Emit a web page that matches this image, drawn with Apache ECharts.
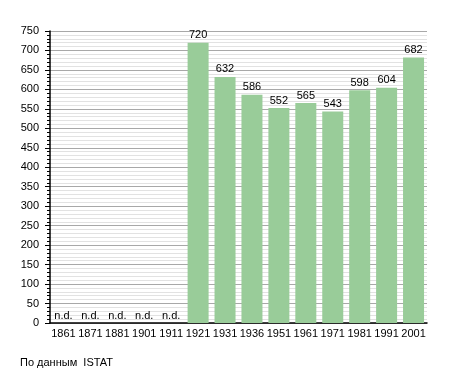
<!DOCTYPE html>
<html><head><meta charset="utf-8">
<script src="https://cdn.jsdelivr.net/npm/echarts@6/dist/echarts.min.js"></script>
<style>html,body{margin:0;padding:0;background:#fff}#c{width:455px;height:373px}</style>
</head><body><div id="c"></div>
<script>
const categories = ['1861','1871','1881','1901','1911','1921','1931','1936','1951','1961','1971','1981','1991','2001'];
const values = [null,null,null,null,null,720,632,586,552,565,543,598,604,682];
const yTicks = {min:0, max:750, interval:50};
const noteText = 'По данным  ISTAT';

const chart = echarts.init(document.getElementById('c'), null, {renderer:'canvas'});
const font = 'Liberation Sans, Arial, sans-serif';
chart.setOption({
  animation:false,
  backgroundColor:'#fff',
  grid:{left:50, top:31, right:28, bottom:50, containLabel:false},
  graphic:[{type:'text', left:20, top:357, style:{text:noteText, fontFamily:font, fontSize:11, fill:'#000'}}],
  xAxis:{type:'category', data:categories,
    axisLine:{lineStyle:{color:'#000', width:1.5}}, axisTick:{show:false},
    axisLabel:{color:'#000', fontFamily:font, fontSize:11, margin:5, interval:0}},
  yAxis:{type:'value', min:yTicks.min, max:yTicks.max, interval:yTicks.interval,
    axisLine:{show:true, lineStyle:{color:'#000', width:1.5}},
    axisTick:{show:true, length:5, lineStyle:{color:'#000'}},
    minorTick:{show:true, splitNumber:5, length:3, lineStyle:{color:'#000'}},
    splitLine:{show:true, lineStyle:{color:'#a8a8a8', width:1}},
    minorSplitLine:{show:true, lineStyle:{color:'#e2e2e2', width:1}},
    axisLabel:{color:'#000', fontFamily:font, fontSize:11, margin:11}},
  series:[{type:'bar', barWidth:21,
    data: values.map(v => v === null ? {value:0, label:{formatter:'n.d.'}} : v),
    itemStyle:{color:'#99cc99'},
    label:{show:true, position:'top', distance:2, color:'#000', fontFamily:font, fontSize:11}
  }]
});
</script></body></html>
